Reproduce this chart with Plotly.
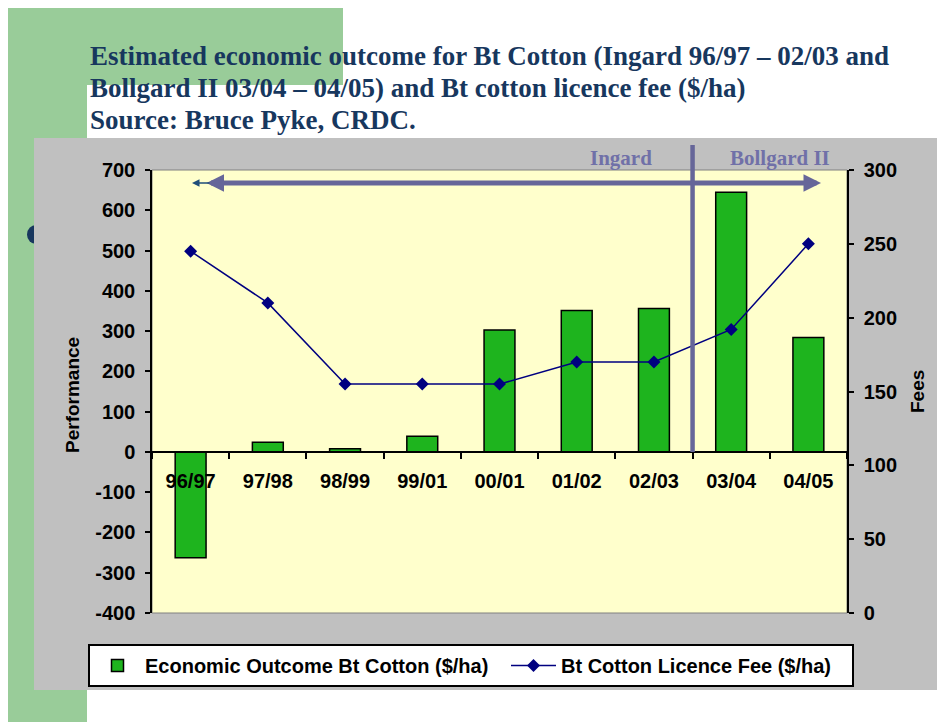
import plotly.graph_objects as go

# ---------------- data ----------------
seasons = ["96/97", "97/98", "98/99", "99/01", "00/01", "01/02", "02/03", "03/04", "04/05"]
economic_outcome = [-263, 24, 8, 39, 303, 351, 356, 645, 284]   # $/ha, left axis
licence_fee = [245, 210, 155, 155, 155, 170, 170, 192, 250]      # $/ha, right axis
perf_ticks = list(range(-400, 701, 100))
perf_tick_labels = [str(v) for v in perf_ticks]
fee_ticks = list(range(0, 301, 50))
perf_range = [-400, 700]
fee_range = [0, 300]

title_lines = [
    "Estimated economic outcome for Bt Cotton (Ingard 96/97 \u2013 02/03 and",
    "Bollgard II 03/04 \u2013 04/05) and Bt cotton licence fee ($/ha)",
    "Source: Bruce Pyke, CRDC.",
]

# ---------------- geometry helpers (page pixels -> paper coords) ----------------
PAGE_W, PAGE_H = 945, 722
OFF = 8                      # browser body margin
W, H = PAGE_W - OFF, PAGE_H - OFF
L, R, T, B = 152, 847, 170, 613   # plot area in page pixels


def px(xp):
    return (xp - L) / (R - L)


def py(yp):
    return (B - yp) / (B - T)


zero_pos = (0 - perf_range[0]) / (perf_range[1] - perf_range[0])

SANS = "Liberation Sans"
SERIF = "Liberation Serif"
tickfont = dict(family=SANS, size=20, color="black", weight="bold")
NAVY_T = "#17375E"
PURPLE = "#666699"

fig = go.Figure()
fig.add_trace(go.Bar(
    x=seasons, y=economic_outcome, name="Economic Outcome Bt Cotton ($/ha)",
    marker=dict(color="#1EB41E", line=dict(color="black", width=1.5)),
    width=0.4, legendwidth=356,
))
fig.add_trace(go.Scatter(
    x=seasons, y=licence_fee, yaxis="y2", mode="lines+markers",
    name="Bt Cotton Licence Fee ($/ha)",
    line=dict(color="#000080", width=1.5),
    marker=dict(symbol="diamond", size=10, color="#000080"),
    legendwidth=286,
))

shapes = []
# slide decoration
shapes.append(dict(type="rect", xref="paper", yref="paper", x0=px(7), x1=px(343), y0=py(85), y1=py(0),
                   fillcolor="#99CC99", line=dict(width=0), layer="below"))
shapes.append(dict(type="rect", xref="paper", yref="paper", x0=px(7), x1=px(87), y0=py(722), y1=py(0),
                   fillcolor="#99CC99", line=dict(width=0), layer="below"))
path = (f"M {px(87)},{py(722)} L {px(87)},{py(102)} Q {px(87)},{py(85)} {px(104)},{py(85)} "
        f"L {px(945)},{py(85)} L {px(945)},{py(722)} Z")
shapes.append(dict(type="path", xref="paper", yref="paper", path=path,
                   fillcolor="white", line=dict(width=0), layer="below"))
shapes.append(dict(type="circle", xref="paper", yref="paper", x0=px(27), x1=px(45), y0=py(244), y1=py(225),
                   fillcolor=NAVY_T, line=dict(width=0), layer="below"))
# grey chart area
shapes.append(dict(type="rect", xref="paper", yref="paper", x0=px(34), x1=px(945), y0=py(690), y1=py(138),
                   fillcolor="#C0C0C0", line=dict(width=0), layer="below"))
# yellow plot area
shapes.append(dict(type="rect", xref="paper", yref="paper", x0=0, x1=1, y0=0, y1=1,
                   fillcolor="#FFFFCC", line=dict(color="#808080", width=1), layer="below"))
# Ingard / Bollgard II divider (between 02/03 and 03/04)
shapes.append(dict(type="line", xref="x", yref="paper", x0=6.5, x1=6.5, y0=zero_pos, y1=py(145),
                   line=dict(color=PURPLE, width=4.5), layer="above"))

annotations = []
for txt, yc in zip(title_lines, [56, 88, 120]):
    annotations.append(dict(text=txt, xref="paper", yref="paper", x=px(88), y=py(yc),
                            xanchor="left", yanchor="middle", showarrow=False,
                            font=dict(family=SERIF, size=27, color=NAVY_T, weight="bold")))
annotations.append(dict(text="Ingard", xref="paper", yref="paper", x=px(621), y=py(158),
                        xanchor="center", yanchor="middle", showarrow=False,
                        font=dict(family=SERIF, size=21, color="#7070A8", weight="bold")))
annotations.append(dict(text="Bollgard II", xref="paper", yref="paper", x=px(780), y=py(158),
                        xanchor="center", yanchor="middle", showarrow=False,
                        font=dict(family=SERIF, size=21, color="#7070A8", weight="bold")))
# double arrow spanning the seasons
annotations.append(dict(text="", xref="paper", yref="paper", x=px(821), y=py(183),
                        ax=-(821 - 206), ay=0, showarrow=True, arrowside="end+start",
                        arrowhead=2, startarrowhead=2, arrowsize=0.7, startarrowsize=0.7,
                        arrowwidth=5, arrowcolor=PURPLE, borderpad=0))
annotations.append(dict(text="", xref="paper", yref="paper", x=px(192), y=py(183),
                        ax=18, ay=0, showarrow=True, arrowhead=2, arrowsize=1,
                        arrowwidth=1.5, arrowcolor="#1F4E79", borderpad=0))
# axis titles
annotations.append(dict(text="Performance", xref="paper", yref="paper", x=px(72), y=py(395),
                        textangle=-90, showarrow=False, xanchor="center", yanchor="middle",
                        font=dict(family=SANS, size=19, color="black", weight="bold")))
annotations.append(dict(text="Fees", xref="paper", yref="paper", x=px(917), y=py(392),
                        textangle=-90, showarrow=False, xanchor="center", yanchor="middle",
                        font=dict(family=SANS, size=19, color="black", weight="bold")))

axis_common = dict(showgrid=False, zeroline=False, tickcolor="black", tickwidth=1.5)

fig.update_layout(
    width=W, height=H, autosize=False,
    margin=dict(l=L - OFF, r=PAGE_W - R, t=T - OFF, b=PAGE_H - B, pad=0),
    paper_bgcolor="white", plot_bgcolor="rgba(0,0,0,0)",
    showlegend=True,
    legend=dict(orientation="h", x=px(88), y=py(644), xanchor="left", yanchor="top",
                bgcolor="white", bordercolor="black", borderwidth=2,
                itemwidth=45, entrywidthmode="pixels",
                font=dict(family=SANS, size=20, color="black", weight="bold")),
    xaxis=dict(type="category", categoryorder="array", categoryarray=seasons, range=[-0.5, 8.5],
               anchor="free", position=zero_pos, showline=True, linecolor="black", linewidth=1.5,
               ticks="outside", tickson="boundaries", ticklen=6, tickfont=tickfont,
               ticklabelstandoff=11, **axis_common),
    xaxis2=dict(type="linear", range=[-0.5, 8.5], tick0=-0.5, dtick=1, overlaying="x",
                anchor="free", position=zero_pos, showline=False, ticks="inside", ticklen=6,
                showticklabels=False, **axis_common),
    yaxis=dict(range=perf_range, tickvals=perf_ticks, ticktext=perf_tick_labels,
               ticks="outside", ticklen=5,
               showline=True, linecolor="black", linewidth=1.5, tickfont=tickfont,
               ticklabelstandoff=6, anchor="x", **axis_common),
    yaxis2=dict(range=fee_range, tickvals=fee_ticks, ticks="outside", ticklen=5, side="right",
                overlaying="y", anchor="x", showline=True, linecolor="black", linewidth=1.5,
                tickfont=tickfont, ticklabelstandoff=6, **axis_common),
    yaxis3=dict(range=perf_range, tickvals=perf_ticks, ticks="inside", ticklen=5, overlaying="y",
                anchor="x", side="left", showticklabels=False, showline=False, **axis_common),
    yaxis4=dict(range=fee_range, tickvals=fee_ticks, ticks="inside", ticklen=5, overlaying="y",
                anchor="x", side="right", showticklabels=False, showline=False, **axis_common),
    shapes=shapes,
    annotations=annotations,
)

fig.write_html("out.html")
